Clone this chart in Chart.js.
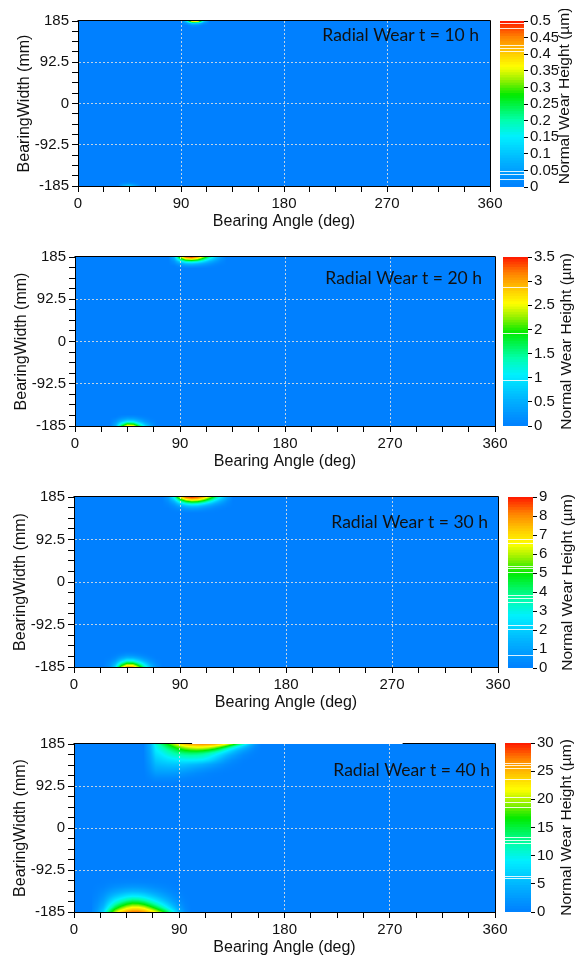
<!DOCTYPE html>
<html>
<head>
<meta charset="utf-8">
<title>Radial Wear</title>
<script src="https://cdn.jsdelivr.net/npm/chart.js@4.4.1/dist/chart.umd.min.js"></script>
<style>
    html, body { margin: 0; padding: 0; background: #fff; }
    #page { position: relative; width: 575px; height: 959px; overflow: hidden; }
    #page canvas { position: absolute; }
</style>
</head>
<body>
<div id="page"></div>
<script>
'use strict';

// ---- values ----
const angleTickLabels = [0, 90, 180, 270, 360];
const widthTickLabels = [-185, -92.5, 0, 92.5, 185];
const hours = [10, 20, 30, 40];
const wearMax = [0.5, 3.5, 9, 30];
const wearStep = [0.05, 0.5, 1, 5];

// t = 10 h
const t10TopAngles = [90, 95, 100, 105, 110, 115];
const t10TopWidths = [185, 180, 175, 170];
const t10TopWear = [
    [0, 0.15, 0.45, 0.42, 0.12, 0],
    [0, 0.04, 0.12, 0.1, 0.03, 0],
    [0, 0, 0.03, 0.02, 0, 0],
    [0, 0, 0, 0, 0, 0]
];
const t10BottomAngles = [35, 40, 45, 50, 55];
const t10BottomWidths = [-185, -180, -175];
const t10BottomWear = [
    [0, 0.07, 0.12, 0.06, 0],
    [0, 0.02, 0.03, 0.015, 0],
    [0, 0, 0, 0, 0]
];

// t = 20 h
const t20TopAngles = [80, 85, 90, 95, 100, 105, 110, 115, 120, 125, 130];
const t20TopWidths = [185, 180, 175, 170, 165, 160];
const t20TopWear = [
    [0, 0.6, 2.2, 3.3, 3.5, 3.1, 2.3, 1.5, 0.8, 0.3, 0],
    [0, 0.4, 1.5, 2.3, 2.5, 2.2, 1.6, 1.0, 0.55, 0.2, 0],
    [0, 0.2, 0.8, 1.3, 1.4, 1.25, 0.9, 0.55, 0.3, 0.1, 0],
    [0, 0.1, 0.35, 0.6, 0.65, 0.55, 0.4, 0.25, 0.12, 0.04, 0],
    [0, 0, 0.12, 0.22, 0.25, 0.2, 0.14, 0.08, 0.03, 0, 0],
    [0, 0, 0, 0, 0, 0, 0, 0, 0, 0, 0]
];
const t20BottomAngles = [30, 35, 40, 45, 50, 55, 60, 65, 70];
const t20BottomWidths = [-185, -180, -175, -170, -165, -160];
const t20BottomWear = [
    [0, 0.5, 1.8, 2.7, 2.6, 1.7, 0.9, 0.35, 0],
    [0, 0.35, 1.2, 1.85, 1.75, 1.1, 0.55, 0.2, 0],
    [0, 0.2, 0.65, 1.0, 0.95, 0.6, 0.28, 0.08, 0],
    [0, 0.1, 0.3, 0.45, 0.42, 0.26, 0.12, 0.03, 0],
    [0, 0, 0.1, 0.16, 0.15, 0.08, 0.03, 0, 0],
    [0, 0, 0, 0, 0, 0, 0, 0, 0]
];

// t = 30 h
const t30TopAngles = [75, 80, 85, 90, 95, 100, 105, 110, 115, 120, 125, 130, 135];
const t30TopWidths = [185, 180, 175, 170, 165, 160, 155, 150];
const t30TopWear = [
    [0, 0.8, 3.0, 6.5, 8.6, 9.0, 8.6, 7.6, 6.0, 4.2, 2.5, 1.0, 0],
    [0, 0.6, 2.2, 4.8, 6.6, 7.3, 7.0, 6.0, 4.6, 3.1, 1.8, 0.7, 0],
    [0, 0.4, 1.4, 3.2, 4.6, 5.2, 5.0, 4.2, 3.1, 2.0, 1.1, 0.4, 0],
    [0, 0.2, 0.8, 1.9, 2.8, 3.3, 3.1, 2.5, 1.8, 1.1, 0.6, 0.2, 0],
    [0, 0.1, 0.4, 1.0, 1.5, 1.8, 1.7, 1.3, 0.9, 0.5, 0.25, 0.1, 0],
    [0, 0, 0.2, 0.45, 0.75, 0.9, 0.85, 0.6, 0.4, 0.2, 0.1, 0, 0],
    [0, 0, 0.05, 0.15, 0.3, 0.35, 0.3, 0.2, 0.1, 0.05, 0, 0, 0],
    [0, 0, 0, 0, 0, 0, 0, 0, 0, 0, 0, 0, 0]
];
const t30BottomAngles = [25, 30, 35, 40, 45, 50, 55, 60, 65, 70, 75];
const t30BottomWidths = [-185, -180, -175, -170, -165, -160, -155, -150];
const t30BottomWear = [
    [0, 0.5, 2.2, 5.6, 7.8, 7.6, 5.6, 3.4, 1.6, 0.5, 0],
    [0, 0.4, 1.6, 4.2, 6.0, 5.9, 4.3, 2.6, 1.2, 0.35, 0],
    [0, 0.3, 1.1, 2.9, 4.2, 4.1, 3.0, 1.8, 0.8, 0.2, 0],
    [0, 0.15, 0.6, 1.7, 2.6, 2.5, 1.8, 1.0, 0.45, 0.1, 0],
    [0, 0.05, 0.3, 0.9, 1.4, 1.35, 0.95, 0.5, 0.2, 0, 0],
    [0, 0, 0.12, 0.4, 0.65, 0.6, 0.4, 0.2, 0.05, 0, 0],
    [0, 0, 0.03, 0.12, 0.25, 0.22, 0.12, 0.05, 0, 0, 0],
    [0, 0, 0, 0, 0, 0, 0, 0, 0, 0, 0]
];

// t = 40 h
const t40TopAngles = [60, 65, 70, 75, 80, 85, 90, 95, 100, 105, 110, 115, 120, 125, 130, 135, 140, 145, 150, 155, 160];
const t40TopWidths = [185, 180, 175, 170, 165, 160, 150, 140, 130, 120, 110, 100];
const t40TopWear = [
    [0.5, 4, 10.5, 13.5, 16.5, 19.5, 22.5, 24.5, 26, 26.6, 26.8, 26.5, 25.8, 24.2, 21.8, 18.8, 15, 11, 6.5, 2.5, 0],
    [0.5, 3.8, 9.5, 12, 14.5, 17, 19.5, 21.3, 22.3, 22.8, 22.8, 22.3, 21.2, 19.4, 16.8, 13.5, 10, 7, 3.8, 1.3, 0],
    [0.5, 3.6, 9, 11, 13, 15, 17, 18.5, 19.5, 20, 19.8, 19, 17.5, 15.3, 12.5, 9.5, 6.8, 4.5, 2.3, 0.7, 0],
    [0.5, 3.4, 8.5, 10, 11.8, 13.2, 14.8, 16, 16.6, 16.8, 16.4, 15.4, 13.8, 11.8, 9.2, 6.7, 4.5, 2.8, 1.4, 0.4, 0],
    [0.4, 3.2, 8, 9.2, 10.8, 12, 13, 13.6, 13.9, 13.8, 13.3, 12.3, 10.8, 9, 7, 5, 3.2, 1.7, 0.8, 0.2, 0],
    [0.4, 3, 7.4, 8.5, 9.8, 10.8, 11.5, 12, 12.2, 12, 11.5, 10.5, 9, 7.2, 5.2, 3.4, 2, 0.9, 0.4, 0.1, 0],
    [0.3, 2.6, 6.2, 7, 7.8, 8.3, 8.8, 9.2, 9.3, 9.2, 8.8, 7.8, 6.2, 4.4, 2.6, 1.4, 0.7, 0.2, 0, 0, 0],
    [0.2, 2.1, 5, 5.5, 5.8, 6, 6, 5.8, 5.4, 5, 4.4, 3.6, 2.7, 1.8, 1, 0.5, 0.2, 0, 0, 0, 0],
    [0.1, 1.6, 3.8, 4, 4.2, 4.2, 4, 3.6, 3.1, 2.5, 2, 1.5, 1, 0.6, 0.3, 0.1, 0, 0, 0, 0, 0],
    [0, 1, 2.4, 2.5, 2.5, 2.4, 2.2, 1.8, 1.4, 1, 0.7, 0.4, 0.2, 0.1, 0, 0, 0, 0, 0, 0, 0],
    [0, 0.4, 1, 1, 1, 0.9, 0.8, 0.6, 0.4, 0.3, 0.2, 0.1, 0, 0, 0, 0, 0, 0, 0, 0, 0],
    [0, 0, 0.2, 0.2, 0.2, 0.2, 0.1, 0.1, 0, 0, 0, 0, 0, 0, 0, 0, 0, 0, 0, 0, 0]
];
const t40BottomAngles = [15, 20, 25, 30, 35, 40, 45, 50, 55, 60, 65, 70, 75, 80, 85, 90, 95, 100];
const t40BottomWidths = [-185, -180, -175, -170, -165, -160, -150, -140, -130, -120, -110];
const t40BottomWear = [
    [0.5, 3, 7, 14, 19.5, 23.5, 26, 27.5, 27.5, 26.2, 24, 21.3, 18, 14, 9.5, 5, 1.5, 0],
    [0.4, 2.4, 5.8, 12, 17.2, 20.6, 23, 24.3, 24.3, 23.2, 21, 18.1, 15, 11.5, 7.5, 3.8, 1.1, 0],
    [0.3, 2, 4.8, 10, 14.5, 17.8, 20.3, 21.8, 21.8, 20.5, 18, 15.2, 12.2, 9, 5.8, 2.8, 0.8, 0],
    [0.3, 1.7, 4, 8.5, 12.5, 15.2, 17.5, 18.8, 18.7, 17.4, 15.2, 12.6, 10, 7.3, 4.5, 2.1, 0.6, 0],
    [0.2, 1.4, 3.4, 7.2, 10.5, 13, 15, 16.2, 16, 14.8, 12.7, 10.5, 8.2, 5.8, 3.5, 1.6, 0.4, 0],
    [0.2, 1.1, 2.8, 6, 8.8, 10.8, 12.5, 13.6, 13.4, 12.2, 10.4, 8.4, 6.4, 4.5, 2.6, 1.1, 0.3, 0],
    [0.1, 0.7, 1.8, 3.9, 5.7, 7, 8.2, 8.8, 8.6, 7.8, 6.5, 5.2, 3.8, 2.6, 1.4, 0.6, 0.1, 0],
    [0, 0.4, 1, 2.1, 3.1, 3.9, 4.6, 4.9, 4.8, 4.3, 3.5, 2.7, 1.9, 1.2, 0.6, 0.2, 0, 0],
    [0, 0.2, 0.4, 0.9, 1.4, 1.7, 2, 2.2, 2.1, 1.9, 1.5, 1.1, 0.8, 0.5, 0.2, 0, 0, 0],
    [0, 0, 0.1, 0.3, 0.4, 0.5, 0.6, 0.6, 0.6, 0.5, 0.4, 0.3, 0.2, 0.1, 0, 0, 0, 0],
    [0, 0, 0, 0, 0, 0, 0, 0, 0, 0, 0, 0, 0, 0, 0, 0, 0, 0]
];

// white contour-level lines visible in each colour bar
const t10Gaps = [0.023, 0.039, 0.049, 0.41, 0.418, 0.428, 0.478, 0.493];
const t20Gaps = [0.95, 1.92, 2.87];
const t30Gaps = [0.68, 2.05, 2.26, 3.46, 3.67, 3.84, 5.04, 5.25, 5.37, 6.56, 6.77];
const t40Gaps = [6.0, 6.4, 12.2, 12.8, 13.3, 18.7, 19.6, 20.5, 23.6, 25.5, 26.1, 26.4];

const panelBlobs = [
    [{ angles: t10TopAngles, widths: t10TopWidths, wear: t10TopWear },
     { angles: t10BottomAngles, widths: t10BottomWidths, wear: t10BottomWear }],
    [{ angles: t20TopAngles, widths: t20TopWidths, wear: t20TopWear },
     { angles: t20BottomAngles, widths: t20BottomWidths, wear: t20BottomWear }],
    [{ angles: t30TopAngles, widths: t30TopWidths, wear: t30TopWear },
     { angles: t30BottomAngles, widths: t30BottomWidths, wear: t30BottomWear }],
    [{ angles: t40TopAngles, widths: t40TopWidths, wear: t40TopWear },
     { angles: t40BottomAngles, widths: t40BottomWidths, wear: t40BottomWear }]
];
const panelGaps = [t10Gaps, t20Gaps, t30Gaps, t40Gaps];

// ---- page layout (pixels) ----
const panelLayouts = [
    { plot: { left: 78, right: 490, top: 21, bottom: 186 }, bar: { left: 500, right: 524, top: 21, bottom: 187 }, titleX: 565, titleY: 96, labelDx: -11, labelDy: 20 },
    { plot: { left: 75, right: 495, top: 257, bottom: 426 }, bar: { left: 503, right: 528, top: 257, bottom: 426 }, titleX: 567, labelDx: -13, labelDy: 27 },
    { plot: { left: 74, right: 498, top: 497, bottom: 667 }, bar: { left: 508, right: 533, top: 497, bottom: 668 }, titleX: 568, labelDx: -10, labelDy: 31 },
    { plot: { left: 74, right: 495, top: 744, bottom: 912 }, bar: { left: 505, right: 531, top: 743, bottom: 912 }, titleX: 567, labelDx: -5, labelDy: 32, topGap: [101, 281] }
];

// rainbow colour map used by the contour fill and colour bar
const colourStops = [
    [0.00, 0, 128, 255],
    [0.15, 0, 178, 255],
    [0.30, 0, 240, 255],
    [0.40, 0, 255, 170],
    [0.55, 0, 235, 0],
    [0.64, 150, 240, 0],
    [0.72, 255, 255, 0],
    [0.80, 255, 205, 0],
    [0.90, 255, 130, 0],
    [1.00, 255, 20, 0]
];
const gridColour = 'rgba(225, 225, 225, 0.85)';
const titleFont = { size: 16 };

Chart.defaults.font.family = '"Liberation Sans", Arial, sans-serif';
Chart.defaults.font.size = 15;
Chart.defaults.color = '#111';
Chart.defaults.animation = false;

const page = document.getElementById('page');

/**
 * Colour (as [r, g, b]) for a fraction 0..1 of the panel's maximum
 */
function colourRGB(f) {
    f = Math.max(0, Math.min(1, f));
    for (let k = 0; k < colourStops.length - 1; k++) {
        const a = colourStops[k], b = colourStops[k + 1];
        if (f <= b[0]) {
            const t = (f - a[0]) / (b[0] - a[0]);
            return [0, 1, 2].map(c => Math.round(a[c + 1] + (b[c + 1] - a[c + 1]) * t));
        }
    }
    return colourStops[colourStops.length - 1].slice(1);
}

function colourFor(f) {
    const c = colourRGB(f);
    return 'rgb(' + c.join(',') + ')';
}

/**
 * Find the grid cell that holds v: [index, fraction] or null when outside
 */
function locate(nodes, v) {
    for (let k = 0; k < nodes.length - 1; k++) {
        const a = nodes[k], b = nodes[k + 1];
        if ((v - a) * (v - b) <= 0) return [k, (v - a) / (b - a)];
    }
    return null;
}

/**
 * Ticks between the labelled ones (every quarter)
 */
function withMinorTicks(labels) {
    const out = [];
    for (let k = 0; k < labels.length - 1; k++) {
        const a = labels[k], step = (labels[k + 1] - a) / 4;
        for (let m = 0; m < 4; m++) out.push(a + m * step);
    }
    out.push(labels[labels.length - 1]);
    return out;
}

function addCanvas(left, top, width, height) {
    const c = document.createElement('canvas');
    c.width = width;
    c.height = height;
    c.style.left = left + 'px';
    c.style.top = top + 'px';
    c.style.width = width + 'px';
    c.style.height = height + 'px';
    page.appendChild(c);
    return c;
}

/**
 * Contour fill: sample the wear grids at every pixel of the chart area
 */
function heatmapPlugin(blobs, max) {
    return {
        id: 'heatmap',
        beforeDraw(chart) {
            const { ctx, chartArea: a, scales: { x, y } } = chart;
            const left = Math.round(a.left), top = Math.round(a.top);
            const w = Math.round(a.right) - left, h = Math.round(a.bottom) - top;
            const cols = [], rows = [];
            for (let i = 0; i < w; i++) cols.push(x.getValueForPixel(left + i + 0.5));
            for (let j = 0; j < h; j++) rows.push(y.getValueForPixel(top + j + 0.5));

            const field = new Float32Array(w * h);
            blobs.forEach(b => {
                const cx = cols.map(v => locate(b.angles, v));
                const cy = rows.map(v => locate(b.widths, v));
                for (let j = 0; j < h; j++) {
                    if (!cy[j]) continue;
                    const [r, ty] = cy[j];
                    const g0 = b.wear[r], g1 = b.wear[r + 1];
                    for (let i = 0; i < w; i++) {
                        if (!cx[i]) continue;
                        const [c, tx] = cx[i];
                        const upper = g0[c] * (1 - tx) + g0[c + 1] * tx;
                        const lower = g1[c] * (1 - tx) + g1[c + 1] * tx;
                        field[j * w + i] += upper * (1 - ty) + lower * ty;
                    }
                }
            });

            const off = document.createElement('canvas');
            off.width = w;
            off.height = h;
            const octx = off.getContext('2d');
            const img = octx.createImageData(w, h);
            for (let k = 0; k < w * h; k++) {
                const c = colourRGB(field[k] / max);
                img.data[k * 4] = c[0];
                img.data[k * 4 + 1] = c[1];
                img.data[k * 4 + 2] = c[2];
                img.data[k * 4 + 3] = 255;
            }
            octx.putImageData(img, 0, 0);
            ctx.drawImage(off, left, top);
        }
    };
}

/**
 * Top and right edges of the plot frame
 */
function framePlugin(topGap) {
    return {
        id: 'frame',
        afterDraw(chart) {
            const { ctx, chartArea: a, scales: { x } } = chart;
            const l = Math.round(a.left) - 0.5, r = Math.round(a.right) + 0.5;
            const t = Math.round(a.top) - 0.5, b = Math.round(a.bottom) + 0.5;
            ctx.save();
            ctx.strokeStyle = '#000';
            ctx.lineWidth = 1;
            ctx.beginPath();
            if (topGap) {
                ctx.moveTo(l, t);
                ctx.lineTo(x.getPixelForValue(topGap[0]), t);
                ctx.moveTo(x.getPixelForValue(topGap[1]), t);
                ctx.lineTo(r, t);
            } else {
                ctx.moveTo(l, t);
                ctx.lineTo(r, t);
            }
            ctx.moveTo(r, t);
            ctx.lineTo(r, b);
            ctx.stroke();
            ctx.restore();
        }
    };
}

function panelLabelPlugin(text, dx, dy) {
    return {
        id: 'panelLabel',
        afterDraw(chart) {
            const { ctx, chartArea: a } = chart;
            ctx.save();
            ctx.font = '17.5px Lato, "Open Sans", sans-serif';
            ctx.fillStyle = '#111';
            ctx.textAlign = 'right';
            ctx.textBaseline = 'alphabetic';
            ctx.fillText(text, a.right + dx, a.top + dy);
            ctx.restore();
        }
    };
}

function gapLinesPlugin(levels) {
    return {
        id: 'gapLines',
        afterDatasetsDraw(chart) {
            const { ctx, chartArea: a, scales: { y } } = chart;
            ctx.save();
            ctx.strokeStyle = 'rgba(255, 255, 255, 0.85)';
            ctx.lineWidth = 1;
            levels.forEach(v => {
                const py = Math.round(y.getPixelForValue(v)) + 0.5;
                ctx.beginPath();
                ctx.moveTo(a.left, py);
                ctx.lineTo(a.right, py);
                ctx.stroke();
            });
            ctx.restore();
        }
    };
}

function barTitlePlugin(localX, localY) {
    return {
        id: 'barTitle',
        afterDraw(chart) {
            const { ctx, chartArea: a } = chart;
            ctx.save();
            ctx.translate(localX, localY === undefined ? (a.top + a.bottom) / 2 : localY);
            ctx.rotate(-Math.PI / 2);
            ctx.font = '15.5px "Liberation Sans", Arial, sans-serif';
            ctx.fillStyle = '#111';
            ctx.textAlign = 'center';
            ctx.textBaseline = 'middle';
            ctx.fillText('Normal Wear Height (\u00b5m)', 0, 0);
            ctx.restore();
        }
    };
}

/**
 * Wear map for one time step
 */
function buildWearMap(index) {
    const layout = panelLayouts[index];
    const p = layout.plot;
    const padLeft = p.left - 63;
    const width = p.right + 24;
    const height = 21 + (p.bottom - p.top) + 45 + 6;
    const canvas = addCanvas(0, p.top - 21, width, height);

    const majorInside = (value, labels) =>
        labels.includes(value) && value !== labels[0] && value !== labels[labels.length - 1];

    new Chart(canvas, {
        type: 'scatter',
        data: { datasets: [] },
        options: {
            responsive: false,
            devicePixelRatio: 1,
            events: [],
            layout: { padding: { left: padLeft, top: 21, right: 24, bottom: 6 } },
            plugins: { legend: { display: false }, tooltip: { enabled: false } },
            scales: {
                x: {
                    type: 'linear',
                    position: 'bottom',
                    min: angleTickLabels[0],
                    max: angleTickLabels[angleTickLabels.length - 1],
                    afterBuildTicks: scale => {
                        scale.ticks = withMinorTicks(angleTickLabels).map(v => ({ value: v }));
                    },
                    afterFit: scale => { scale.height = 45; },
                    ticks: {
                        autoSkip: false,
                        maxRotation: 0,
                        padding: 3,
                        callback: v => angleTickLabels.includes(v) ? String(v) : ''
                    },
                    grid: {
                        color: ctx => ctx.tick && majorInside(ctx.tick.value, angleTickLabels) ? gridColour : 'transparent',
                        tickColor: '#000',
                        tickLength: 6,
                        tickBorderDash: []
                    },
                    border: { color: '#000', width: 1, dash: [2, 2] },
                    title: { display: true, text: 'Bearing Angle (deg)', padding: 0, font: titleFont }
                },
                y: {
                    type: 'linear',
                    position: 'left',
                    min: widthTickLabels[0],
                    max: widthTickLabels[widthTickLabels.length - 1],
                    afterBuildTicks: scale => {
                        scale.ticks = withMinorTicks(widthTickLabels).map(v => ({ value: v }));
                    },
                    afterFit: scale => { scale.width = p.left - padLeft; },
                    ticks: {
                        autoSkip: false,
                        padding: 3,
                        callback: v => widthTickLabels.includes(v) ? String(v) : ''
                    },
                    grid: {
                        color: ctx => ctx.tick && majorInside(ctx.tick.value, widthTickLabels) ? gridColour : 'transparent',
                        tickColor: '#000',
                        tickLength: 6,
                        tickBorderDash: []
                    },
                    border: { color: '#000', width: 1, dash: [2, 2] },
                    title: { display: true, text: 'BearingWidth (mm)', padding: 0, font: titleFont }
                }
            }
        },
        plugins: [
            heatmapPlugin(panelBlobs[index], wearMax[index]),
            framePlugin(layout.topGap),
            panelLabelPlugin('Radial Wear t = ' + hours[index] + ' h', layout.labelDx, layout.labelDy)
        ]
    });
}

/**
 * Colour bar for one time step, stacked from thin bar segments
 */
function buildColourBar(index) {
    const layout = panelLayouts[index];
    const b = layout.bar;
    const max = wearMax[index];
    const barW = b.right - b.left;
    const axisW = 34;
    const left = b.left - 2;
    const top = b.top - 12;
    const width = 78;
    const canvas = addCanvas(left, top, width, (b.bottom - b.top) + 24);

    const steps = 64;
    const datasets = [];
    for (let k = 0; k < steps; k++) {
        datasets.push({
            data: [max / steps],
            backgroundColor: colourFor((k + 0.5) / steps),
            borderWidth: 0,
            barPercentage: 1,
            categoryPercentage: 1,
            inflateAmount: 0.6
        });
    }

    new Chart(canvas, {
        type: 'bar',
        data: { labels: [''], datasets: datasets },
        options: {
            responsive: false,
            devicePixelRatio: 1,
            events: [],
            layout: { padding: { left: 2, top: 12, bottom: 12, right: width - 2 - barW - axisW } },
            plugins: { legend: { display: false }, tooltip: { enabled: false } },
            scales: {
                x: { stacked: true, display: false },
                y: {
                    stacked: true,
                    position: 'right',
                    min: 0,
                    max: max,
                    afterFit: scale => { scale.width = axisW; },
                    ticks: {
                        stepSize: wearStep[index],
                        autoSkip: false,
                        padding: 2,
                        callback: v => String(Math.round(v * 1000) / 1000)
                    },
                    grid: { drawOnChartArea: false, tickLength: 4, tickColor: '#000' },
                    border: { display: false }
                }
            }
        },
        plugins: [
            gapLinesPlugin(panelGaps[index]),
            barTitlePlugin(layout.titleX - left, layout.titleY === undefined ? undefined : layout.titleY - top)
        ]
    });
}

hours.forEach((h, i) => {
    buildWearMap(i);
    buildColourBar(i);
});
</script>
</body>
</html>
